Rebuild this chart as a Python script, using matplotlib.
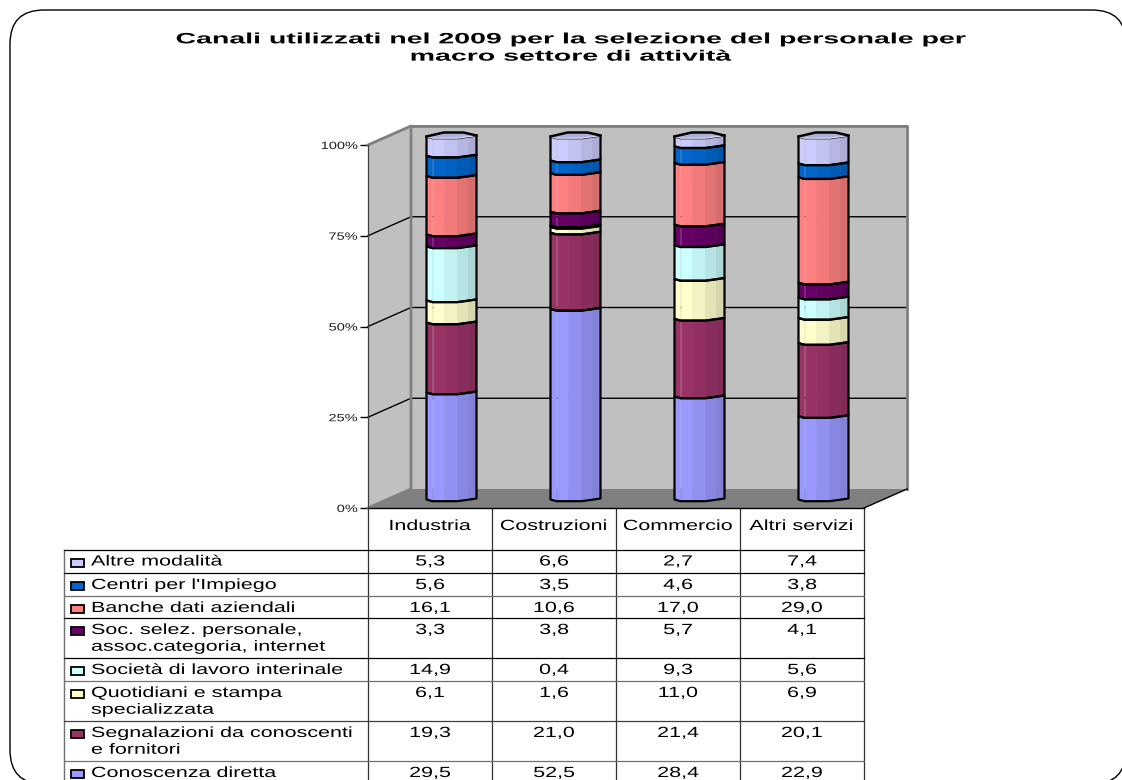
import matplotlib
matplotlib.use('Agg')
import matplotlib.pyplot as plt
from matplotlib.patches import Polygon, Rectangle, FancyBboxPatch
from matplotlib.patheffects import AbstractPathEffect
from matplotlib.transforms import Affine2D
import numpy as np

categories = ['Industria', 'Costruzioni', 'Commercio', 'Altri servizi']
labels = ['Conoscenza diretta', 'Segnalazioni da conoscenti\ne fornitori',
          'Quotidiani e stampa\nspecializzata', 'Società di lavoro interinale',
          'Soc. selez. personale,\nassoc.categoria, internet', 'Banche dati aziendali',
          "Centri per l'Impiego", 'Altre modalità']
conoscenza = [29.5, 52.5, 28.4, 22.9]
segnalazioni = [19.3, 21.0, 21.4, 20.1]
quotidiani = [6.1, 1.6, 11.0, 6.9]
interinale = [14.9, 0.4, 9.3, 5.6]
soc_selez = [3.3, 3.8, 5.7, 4.1]
banche = [16.1, 10.6, 17.0, 29.0]
centri = [5.6, 3.5, 4.6, 3.8]
altre = [5.3, 6.6, 2.7, 7.4]
colors = ['#9999FF', '#993366', '#FFFFCC', '#CCFFFF', '#660066', '#FF8080', '#0066CC', '#CCCCFF']
title = 'Canali utilizzati nel 2009 per la selezione del personale per\nmacro settore di attività'
yticks = [0, 25, 50, 75, 100]

series = [conoscenza, segnalazioni, quotidiani, interinale, soc_selez, banche, centri, altre]
W, H = 1122, 780
FONT = 'Liberation Sans'


# the reference text is squeezed in height, so widen glyphs around the anchor
class Widen(AbstractPathEffect):
    def __init__(self, anchor, sx):
        super().__init__()
        self.anchor = anchor
        self.sx = sx

    def draw_path(self, renderer, gc, tpath, affine, rgbFace=None):
        t = affine + Affine2D().translate(-self.anchor, 0).scale(self.sx, 1).translate(self.anchor, 0)
        renderer.draw_path(gc, tpath, t, rgbFace)


fig = plt.figure(figsize=(W / 100, H / 100), dpi=100, facecolor='white')

# overlay in pixels for the frame and the data table
bg = fig.add_axes([0, 0, 1, 1])
bg.set_xlim(0, W)
bg.set_ylim(H, 0)
bg.axis('off')
bg.add_patch(FancyBboxPatch((10, 10), 1116, 774, boxstyle='round,pad=0,rounding_size=34',
                            fc='white', ec='black', lw=1.0))
bg.text(570, 48, title, ha='center', va='center', fontsize=10.8, fontweight='bold', family=FONT,
        linespacing=1.3, path_effects=[Widen(570, 1.9)])

# chart axes, front plane of the 3D box
L, R, T, B = 368, 864, 145, 508
ax = fig.add_axes([L / W, 1 - B / H, (R - L) / W, (B - T) / H])
ax.set_xlim(0, 4)
ax.set_ylim(0, 100)
ax.patch.set_visible(False)
for s in ax.spines.values():
    s.set_visible(False)
px = 4 / (R - L)
py = 100 / (B - T)
dx = 43 * px
dy = 19 * py

ax.add_patch(Polygon([(0, 0), (dx, dy), (dx, 100 + dy), (0, 100)], fc='#C0C0C0', ec='none', clip_on=False))
ax.add_patch(Polygon([(dx, dy), (4 + dx, dy), (4 + dx, 100 + dy), (dx, 100 + dy)], fc='#C0C0C0', ec='none', clip_on=False))
ax.add_patch(Polygon([(0, 0), (dx, dy), (4 + dx, dy), (4, 0)], fc='#808080', ec='none', clip_on=False))
for t in yticks[1:]:
    ax.plot([0, dx, 4 + dx], [t, t + dy, t + dy], color='black', lw=1.0, clip_on=False)
ax.plot([0, dx, dx, 0], [100, 100 + dy, dy, 0], color='#808080', lw=2.0, clip_on=False)
ax.plot([dx, 4 + dx, 4 + dx], [100 + dy, 100 + dy, dy], color='#808080', lw=2.0, clip_on=False)
ax.plot([4, 4 + dx], [0, dy], color='black', lw=1.0, clip_on=False)
ax.plot([0, 4], [0, 0], color='black', lw=1.0, clip_on=False)
ax.plot([0, 0], [0, 100], color='#404040', lw=0.9, clip_on=False)

# faceted column profile, in pixels from the column centre
prof_x = np.array([-25, -19, -8, 6, 17, 25]) * px
prof_y = np.array([0, 1.7, 1.7, 1.7, 0.2, -1]) * -py
shade = [1.0, 1.0, 0.95, 0.89, 0.84]
back_x = np.array([25, 12, -8, -25]) * px
back_y = np.array([-1, -4, -4, 0]) * -py


def tint(col, f):
    rgb = np.array(matplotlib.colors.to_rgb(col))
    return tuple(rgb * f)


vals = np.array(series)
for i in range(4):
    cx = i + 0.5 + dx / 2
    base = -dy / 2 - 1 * py
    column = vals[:, i] * 100 / vals[:, i].sum()
    for k, v in enumerate(column):
        y0 = base
        y1 = base + v
        for f in range(5):
            xs = [cx + prof_x[f], cx + prof_x[f + 1], cx + prof_x[f + 1], cx + prof_x[f]]
            ys = [y0 + prof_y[f] + dy, y0 + prof_y[f + 1] + dy, y1 + prof_y[f + 1] + dy, y1 + prof_y[f] + dy]
            c = tint(colors[k], shade[f])
            ax.add_patch(Polygon(list(zip(xs, ys)), fc=c, ec=c, lw=0.4, clip_on=False, zorder=3))
        outline = list(zip(cx + prof_x, y0 + prof_y + dy)) + list(zip(cx + prof_x[::-1], y1 + prof_y[::-1] + dy))
        ax.add_patch(Polygon(outline, fc='none', ec='black', lw=1.6, joinstyle='round', clip_on=False, zorder=4))
        base = y1
    # top cap, front edge stays faint
    top = list(zip(cx + prof_x, base + prof_y + dy)) + list(zip(cx + back_x, base + back_y + dy))
    ax.add_patch(Polygon(top, fc=tint(colors[-1], 0.86), ec='none', clip_on=False, zorder=5))
    ax.plot(cx + prof_x, base + prof_y + dy, color='#E6E6FF', lw=0.8, clip_on=False, zorder=6)
    ax.plot(cx + back_x, base + back_y + dy, color='black', lw=1.8, clip_on=False, zorder=6)

ax.set_xticks([])
ax.set_yticks(yticks)
ax.set_yticklabels([f'{t}%' for t in yticks], fontsize=7.6, family=FONT, color='#202020')
ax.tick_params(axis='y', length=6, width=1.0, pad=1)
for lab in ax.get_yticklabels():
    lab.set_path_effects([Widen(L - 8, 1.38)])

# data table
col_x = [L + (R - L) * j / 4 for j in range(5)]
row_y = [549.5, 573, 596, 618, 658, 681, 721, 761, 800]
row_col = ['black', 'black', '#707070', 'black', 'black', '#707070', '#404040', '#707070']
tkw = dict(family=FONT, fontsize=10.6, color='black')
for j, c in enumerate(categories):
    mid = (col_x[j] + col_x[j + 1]) / 2
    bg.text(mid, 526, c, ha='center', va='center', path_effects=[Widen(mid, 1.46)], **tkw)
for x in col_x:
    bg.plot([x, x], [508, H], color='#303030', lw=0.9)
bg.plot([64, 64], [row_y[0], H], color='#707070', lw=1.0)
for y, c in zip(row_y, row_col):
    bg.plot([64, R], [y, y], color=c, lw=0.9)

for r in range(8):
    k = 7 - r
    top = row_y[r]
    bg.add_patch(Rectangle((71, top + 9), 13, 8, fc=colors[k], ec='black', lw=1.3))
    bg.text(91, top + 5, labels[k], ha='left', va='top', linespacing=1.25,
            path_effects=[Widen(91, 1.46)], **tkw)
    for j in range(4):
        mid = (col_x[j] + col_x[j + 1]) / 2
        bg.text(mid, top + 5, f'{series[k][j]:.1f}'.replace('.', ','), ha='center', va='top',
                path_effects=[Widen(mid, 1.46)], **tkw)

fig.savefig('out.png', dpi=100)
